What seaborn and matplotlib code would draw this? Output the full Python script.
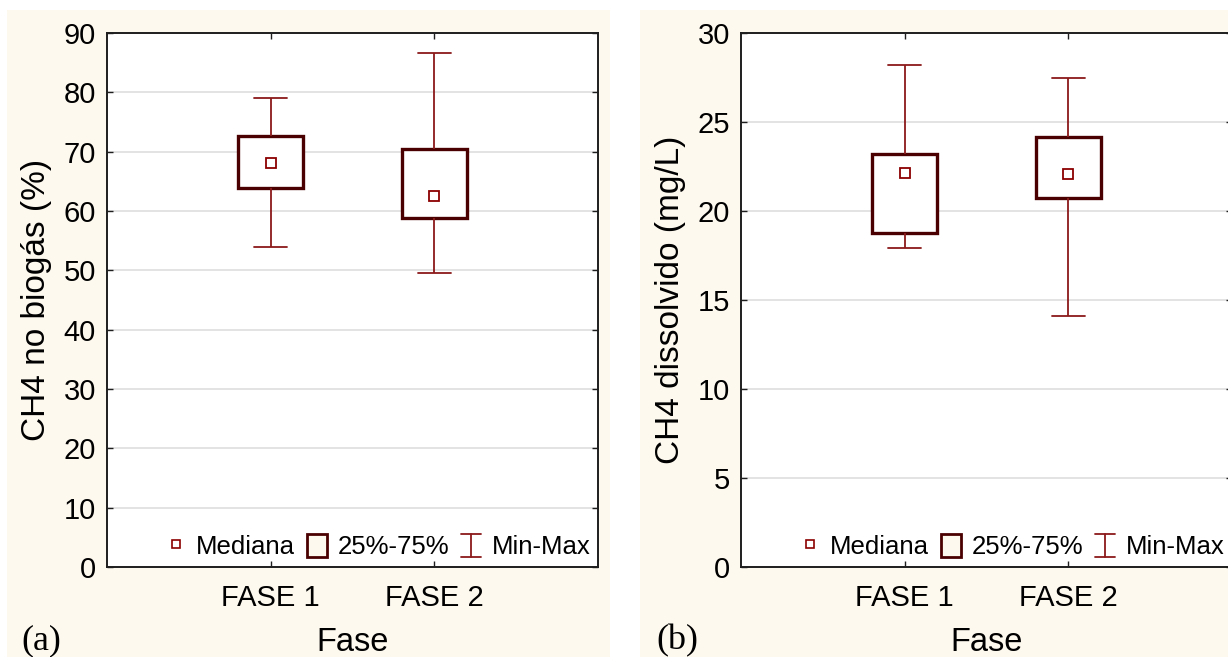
import matplotlib
matplotlib.use("Agg")
import matplotlib.pyplot as plt
from matplotlib.patches import Rectangle, Patch
from matplotlib.lines import Line2D
from matplotlib.legend_handler import HandlerBase
import seaborn as sns
import pandas as pd

# Categories
fases = ["FASE 1", "FASE 2"]

# CH4 no biogás (%) - five-number summaries per phase
biogas_min = [54.0, 49.5]
biogas_q1 = [63.8, 58.9]
biogas_med = [68.1, 62.6]
biogas_q3 = [72.6, 70.4]
biogas_max = [79.0, 86.7]

# CH4 dissolvido (mg/L) - five-number summaries per phase
dissolvido_min = [17.9, 14.1]
dissolvido_q1 = [18.75, 20.75]
dissolvido_med = [22.15, 22.1]
dissolvido_q3 = [23.2, 24.15]
dissolvido_max = [28.2, 27.5]

biogas_ticks = list(range(0, 91, 10))
dissolvido_ticks = list(range(0, 31, 5))

CREAM = "#fef9ef"
BOX_EDGE = "#4a0000"
WHISK = "#8b1a1a"
MED = "#8b0000"

sns.set_style("ticks")
plt.rcParams["font.family"] = ["Liberation Sans", "DejaVu Sans"]
plt.rcParams["text.color"] = "black"
plt.rcParams["axes.labelcolor"] = "black"
plt.rcParams["xtick.color"] = "black"
plt.rcParams["ytick.color"] = "black"


def summary_frame(mins, q1s, meds, q3s, maxs):
    """Five values per group whose quartiles/extremes reproduce the summary."""
    rows = []
    for f, a, b, c, d, e in zip(fases, mins, q1s, meds, q3s, maxs):
        for v in (a, b, c, d, e):
            rows.append({"Fase": f, "valor": v})
    return pd.DataFrame(rows)


class IBarHandler(HandlerBase):
    def create_artists(self, legend, orig_handle, xdescent, ydescent,
                       width, height, fontsize, trans):
        cx = -xdescent + width / 2
        y0, y1 = -ydescent, height - ydescent
        half = width / 2
        kw = dict(color=orig_handle.get_color(),
                  lw=orig_handle.get_linewidth(), transform=trans)
        return [Line2D([cx, cx], [y0, y1], **kw),
                Line2D([cx - half, cx + half], [y0, y0], **kw),
                Line2D([cx - half, cx + half], [y1, y1], **kw)]


fig = plt.figure(figsize=(12.28, 6.57), dpi=100, facecolor="white")
W, H = 1228, 657

# cream panel backgrounds
for x0, x1 in ((7, 610), (640, 1228)):
    fig.add_artist(Rectangle((x0 / W, 0), (x1 - x0) / W, (H - 10) / H,
                             transform=fig.transFigure, facecolor=CREAM,
                             edgecolor="none", zorder=-5))

ax_bottom = 1 - 567 / H
ax_height = (567 - 33) / H
ax_width = 491 / W
ax1 = fig.add_axes([107 / W, ax_bottom, ax_width, ax_height])
ax2 = fig.add_axes([741 / W, ax_bottom, ax_width, ax_height])

panels = [
    (ax1, summary_frame(biogas_min, biogas_q1, biogas_med, biogas_q3, biogas_max),
     biogas_med, (0, 90), biogas_ticks, "CH4 no biogás (%)", "(a)", 21),
    (ax2, summary_frame(dissolvido_min, dissolvido_q1, dissolvido_med,
                        dissolvido_q3, dissolvido_max),
     dissolvido_med, (0, 30), dissolvido_ticks, "CH4 dissolvido (mg/L)", "(b)", 656),
]

for ax, df, meds, ylim, yticks, ylabel, tag, tag_x in panels:
    ax.set_facecolor("white")
    sns.boxplot(data=df, x="Fase", y="valor", order=fases, whis=(0, 100),
                width=0.4, color="white", linecolor=BOX_EDGE, linewidth=2.3,
                fliersize=0, ax=ax,
                boxprops=dict(facecolor="white", edgecolor=BOX_EDGE, linewidth=2.4),
                whiskerprops=dict(color=WHISK, linewidth=1.3),
                capprops=dict(color=WHISK, linewidth=1.3),
                medianprops=dict(linewidth=0, alpha=0))
    sns.pointplot(x=fases, y=meds, order=fases, ax=ax, color=MED,
                  markers="s", linestyles="none", errorbar=None,
                  markersize=6.5, markeredgewidth=1.3)
    pts = ax.lines[-1]
    pts.set_markerfacecolor("white")
    pts.set_markeredgecolor(MED)
    pts.set_zorder(5)

    ax.set_xlim(-1, 2)
    ax.set_ylim(*ylim)
    ax.set_yticks(yticks)
    ax.set_xticks([0, 1])
    ax.set_xticklabels(fases)
    ax.yaxis.grid(True, color="#dedede", linewidth=1.2)
    ax.xaxis.grid(False)
    ax.set_axisbelow(True)
    for s in ax.spines.values():
        s.set_visible(True)
        s.set_color("#1e1e1e")
        s.set_linewidth(1.4)
    ax.tick_params(axis="both", direction="in", length=4, width=1,
                   top=True, right=True, labelsize=21, colors="#1e1e1e",
                   labelcolor="black")
    ax.tick_params(axis="x", pad=12)
    ax.tick_params(axis="y", pad=8)

    ax.set_xlabel("Fase", fontsize=23.5, color="black")
    ax.set_ylabel(ylabel, fontsize=24, color="black")
    ax.xaxis.set_label_coords(0.5, -0.113)
    ax.yaxis.set_label_coords(-0.112, 0.5)

    med_h = Line2D([], [], marker="s", linestyle="none", markerfacecolor="white",
                   markeredgecolor=MED, markersize=5.5, markeredgewidth=1.2)
    box_h = Patch(facecolor=CREAM, edgecolor=BOX_EDGE, linewidth=2)
    bar_h = Line2D([], [], color=WHISK, linewidth=1.3)
    ax.legend([med_h, box_h, bar_h], ["Mediana", "25%-75%", "Min-Max"],
              handler_map={bar_h: IBarHandler()},
              loc="lower right", bbox_to_anchor=(1.0, 0.0), ncol=3,
              frameon=False, fontsize=18.5, handlelength=0.8, handleheight=0.95,
              handletextpad=0.4, columnspacing=0.45, borderaxespad=0.1,
              borderpad=0.2, labelcolor="black")

    fig.text(tag_x / W, 0, tag, fontsize=26, family="Liberation Serif",
             ha="left", va="bottom", color="black")

fig.savefig("out.png", dpi=100, facecolor="white")
